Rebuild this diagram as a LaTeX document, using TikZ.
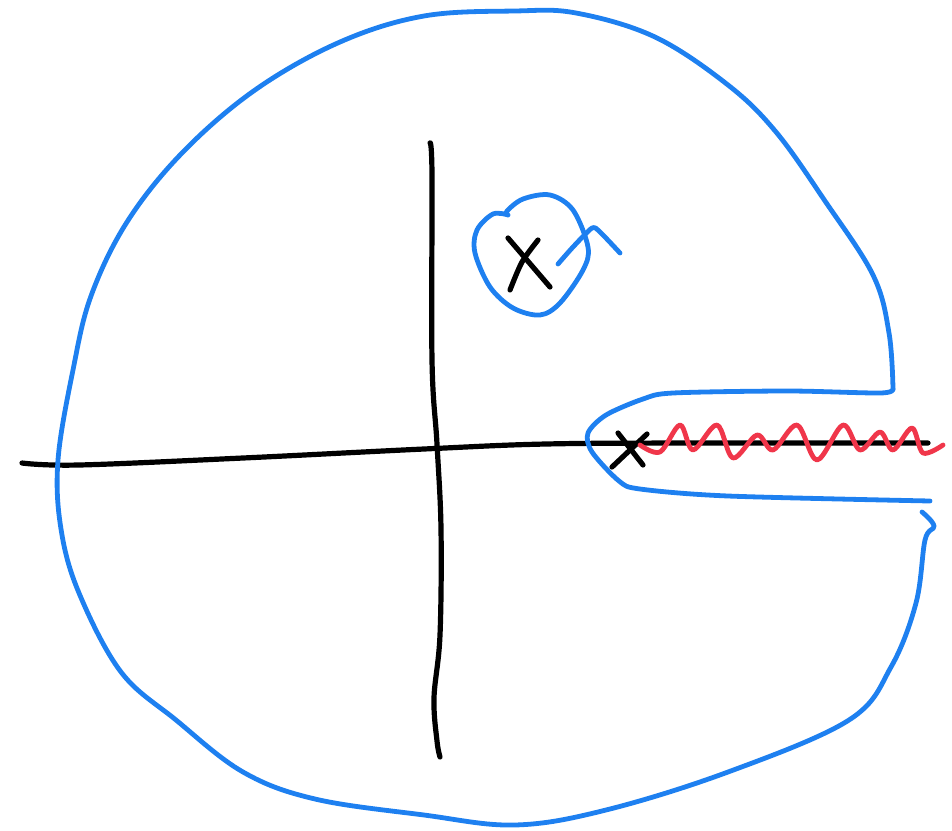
\documentclass[tikz,border=0pt]{standalone}
\definecolor{penblue}{RGB}{30,128,240}
\definecolor{penred}{RGB}{240,54,74}
\begin{document}
\begin{tikzpicture}[x=0.5pt,y=-0.5pt,
  bluepen/.style={draw=penblue,line width=2.4pt,line cap=round,line join=round},
  blackpen/.style={draw=black,line width=2.6pt,line cap=round,line join=round},
  redpen/.style={draw=penred,line width=2.4pt,line cap=round,line join=round}]
\useasboundingbox (0,0) rectangle (952,830);
% axes
\draw[blackpen] plot[smooth,tension=0.6] coordinates {(22,463) (79,465) (243,458) (424,449) (546,444) (700,443) (928,443)};
\draw[blackpen] plot[smooth,tension=0.6] coordinates {(430,143) (432,175) (432,360) (437,444) (441,529) (440,635) (434,698) (437,741) (440,757)};
% outer contour
\draw[bluepen] plot[smooth,tension=0.6] coordinates {(922,512) (934,526) (925,540) (916,603) (891,667) (849,720) (728,772) (606,810) (515,825) (424,815) (315,799) (243,772) (176,720) (121,672) (79,593) (61,529) (58,460) (73,370) (91,296) (127,222) (182,153) (255,90) (340,42) (424,16) (515,11) (576,13) (655,37) (728,85) (776,132) (825,201) (873,275) (889,333) (893,389)};
\draw[bluepen] plot[smooth,tension=0.5] coordinates {(893,389) (880,393) (788,391) (673,393) (643,399) (606,415) (588,433) (592,452) (619,481) (640,489) (728,496) (930,501)};
% small circle with hook
\draw[bluepen] plot[smooth,tension=0.55] coordinates {(508,215) (507,211) (523,199) (550,195) (573,210) (588,247) (583,270) (560,303) (540,315) (513,308) (490,287) (475,253) (477,230) (493,214) (508,215)};
\draw[bluepen] plot[smooth,tension=0.4] coordinates {(558,264) (573,247) (592,228) (600,232) (620,253)};
% poles
\coordinate (p1) at (529,263);
\draw[blackpen] (508,238) -- (550,287);
\draw[blackpen] plot[smooth,tension=0.5] coordinates {(538,240) (522,262) (510,290)};
\coordinate (p2) at (630,449);
\draw[blackpen] (618,433) -- (643,465);
\draw[blackpen] (647,434) -- (612,467);
% branch cut
\draw[redpen] plot[smooth,tension=0.55] coordinates {(640,445) (660,452) (680,425) (693,450) (717,425) (733,458) (757,435) (773,450) (797,425) (817,460) (843,425) (860,450) (880,432) (893,450) (912,428) (923,453) (943,445)};
\end{tikzpicture}
\end{document}
